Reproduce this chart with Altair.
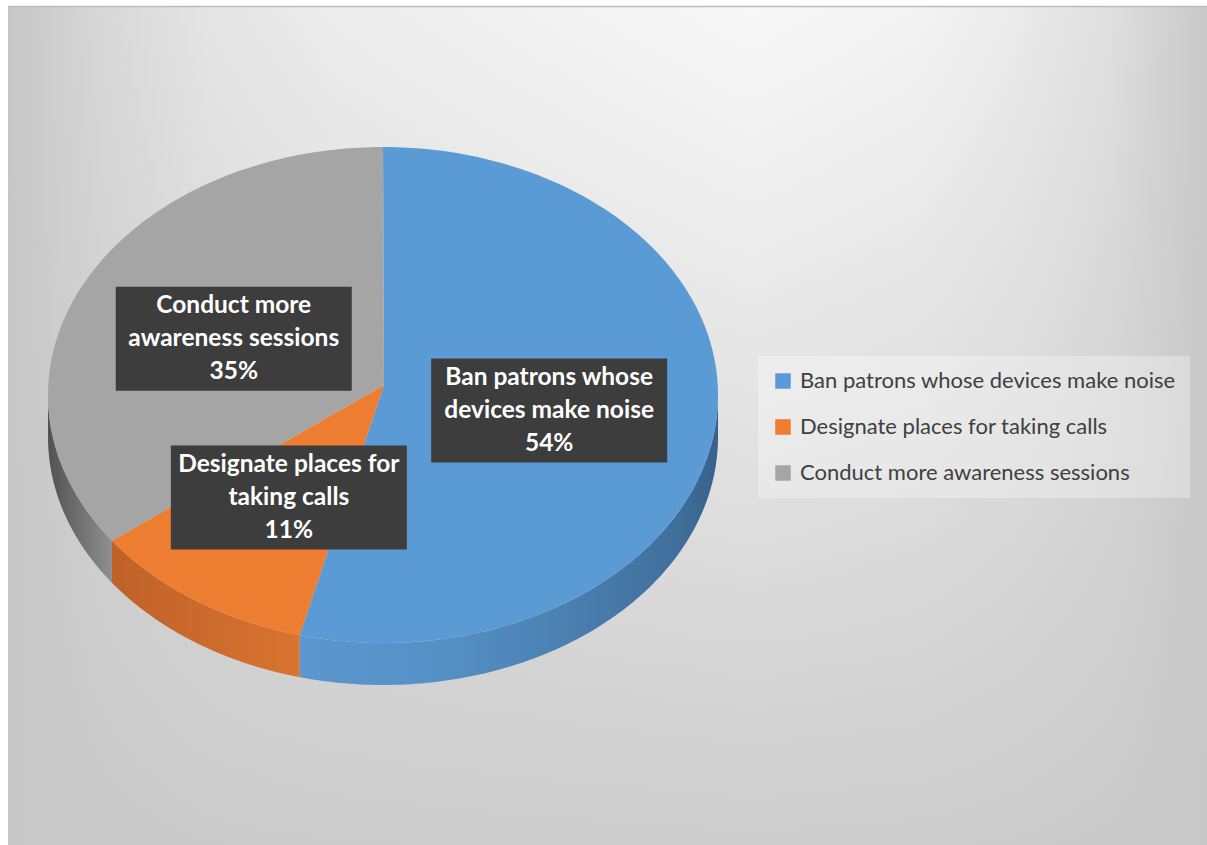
import altair as alt
import pandas as pd

# ---- data ----
categories = [
    "Ban patrons whose devices make noise",
    "Designate places for taking calls",
    "Conduct more awareness sessions",
]
values = [54, 11, 35]
label_lines = [
    "Ban patrons whose\ndevices make noise",
    "Designate places for\ntaking calls",
    "Conduct more\nawareness sessions",
]
colors = ["#5b9bd5", "#ed7d31", "#a5a5a5"]

# ---- layout constants (pixels) ----
W, H = 1207, 845
CX, CY = 383, 395      # rim ellipse centre
AX, AY = 384, 385      # apex of the wedges (perspective)
RX, RY = 335, 248
DEPTH = 42
N = 120
BOX_W, BOX_H = 236, 104

total = sum(values)
t0, t1, acc = [], [], 0
for v in values:
    t0.append(acc / total)
    acc += v
    t1.append(acc / total)

slices = pd.DataFrame({"category": categories, "value": values, "t0": t0, "t1": t1,
                       "label": label_lines, "total": total})

top_df = slices.merge(pd.DataFrame({"k": list(range(-1, N + 1))}), how="cross")
wall_df = slices.merge(pd.DataFrame({"k": list(range(0, 2 * N + 2))}), how="cross")
one = pd.DataFrame({"a": [0]})

X = alt.X("px:Q", axis=None, scale=alt.Scale(domain=[0, W], nice=False, zero=False))
Y = alt.Y("py:Q", axis=None, scale=alt.Scale(domain=[H, 0], nice=False, zero=False))


def grad(stops, x1=0, y1=0, x2=1, y2=0):
    return alt.LinearGradient(
        gradient="linear",
        stops=[alt.GradientStop(offset=o, color=c) for o, c in stops],
        x1=x1, y1=y1, x2=x2, y2=y2,
    )


# ---- background ----
bg_h = alt.Chart(one).mark_rect(fill=grad([
    (0, "#c6c6c6"), (0.08, "#d8d8d8"), (0.17, "#e5e5e5"), (0.27, "#ececec"),
    (0.62, "#f8f8f8"), (0.76, "#f3f3f3"), (0.84, "#ebebeb"), (0.92, "#dfdfdf"), (1, "#c8c8c8")
])).encode(x=alt.value(8), x2=alt.value(W), y=alt.value(7), y2=alt.value(H))

bg_v = alt.Chart(one).mark_rect(fill=grad([
    (0, "rgba(200,200,200,0)"), (0.5, "rgba(200,200,200,0.45)"), (1, "rgba(200,200,200,0.9)")
], x1=0, y1=0, x2=0, y2=1)).encode(x=alt.value(8), x2=alt.value(W), y=alt.value(7), y2=alt.value(H))

frame = alt.Chart(one).mark_rule(color="#bdbdbd", strokeWidth=1.5).encode(
    x=alt.value(8), x2=alt.value(W), y=alt.value(6.5))

# ---- side walls ----
wall_base = alt.Chart(wall_df).transform_calculate(
    w0="max(datum.t0, 0.25)", w1="min(datum.t1, 0.75)"
).transform_filter("datum.w0 < datum.w1").transform_calculate(
    u=f"datum.k <= {N} ? datum.k / {N} : ({2 * N + 1} - datum.k) / {N}"
).transform_calculate(
    t="datum.w0 + (datum.w1 - datum.w0) * datum.u"
).transform_calculate(
    px=f"{CX} + {RX} * sin(2 * PI * datum.t)",
    py=f"{CY} - {RY} * cos(2 * PI * datum.t) + (datum.k <= {N} ? 0 : {DEPTH})",
)

wall_grads = [
    grad([(0, "#5b97ce"), (0.35, "#5590c5"), (0.65, "#4a7fb0"), (0.9, "#406f9c"), (1, "#37618b")]),
    grad([(0, "#bf6128"), (1, "#d97431")]),
    grad([(0, "#525252"), (1, "#8f8f8f")]),
]
walls = [
    wall_base.transform_filter(alt.datum.category == c)
    .mark_line(filled=True, fill=g, strokeWidth=0)
    .encode(x=X, y=Y, order="k:Q")
    for c, g in zip(categories, wall_grads)
]

# ---- top faces ----
top = alt.Chart(top_df).transform_calculate(
    t=f"datum.t0 + (datum.t1 - datum.t0) * max(datum.k, 0) / {N}"
).transform_calculate(
    px=f"datum.k < 0 ? {AX} : {CX} + {RX} * sin(2 * PI * datum.t)",
    py=f"datum.k < 0 ? {AY} : {CY} - {RY} * cos(2 * PI * datum.t)",
).mark_line(filled=True, strokeWidth=0).encode(
    x=X, y=Y, order="k:Q",
    color=alt.Color("category:N", scale=alt.Scale(domain=categories, range=colors),
                    sort=categories,
                    legend=alt.Legend(
                        title=None, orient="none", legendX=758, legendY=356,
                        symbolType="square", symbolSize=240, symbolStrokeWidth=0,
                        labelFont="Lato", labelFontSize=22, labelColor="#404040",
                        rowPadding=24, padding=14, fillColor="rgba(255,255,255,0.3)",
                        labelOffset=6, labelLimit=700)),
)

# ---- data labels ----
lab_base = alt.Chart(slices).transform_calculate(
    mid="(datum.t0 + datum.t1) / 2"
).transform_calculate(
    px=f"{CX} + 0.5 * {RX} * sin(2 * PI * datum.mid)",
    py=f"{CY} - 0.5 * {RY} * cos(2 * PI * datum.mid)",
    txt="datum.label + '\\n' + format(datum.value / datum.total, '.0%')",
).transform_calculate(
    bx0=f"datum.px - {BOX_W / 2}", bx1=f"datum.px + {BOX_W / 2}",
    by0=f"datum.py - {BOX_H / 2}", by1=f"datum.py + {BOX_H / 2}",
)

boxes = lab_base.mark_rect(fill="#3d3d3d").encode(
    x=alt.X("bx0:Q", axis=None, scale=alt.Scale(domain=[0, W], nice=False, zero=False)),
    x2="bx1:Q",
    y=alt.Y("by0:Q", axis=None, scale=alt.Scale(domain=[H, 0], nice=False, zero=False)),
    y2="by1:Q",
)

texts = lab_base.mark_text(
    font="Lato", fontSize=24.5, fontWeight="bold", color="white",
    lineBreak="\n", lineHeight=33, align="center", baseline="middle", dy=-33,
).encode(x=X, y=Y, text="txt:N")

chart = alt.layer(bg_h, bg_v, frame, *walls, top, boxes, texts).properties(
    width=W, height=H, padding=0, autosize=alt.AutoSizeParams(type="none"),
    background="white",
).configure_view(stroke=None)

chart.save("out.html", embed_options={"renderer": "svg", "actions": False})
